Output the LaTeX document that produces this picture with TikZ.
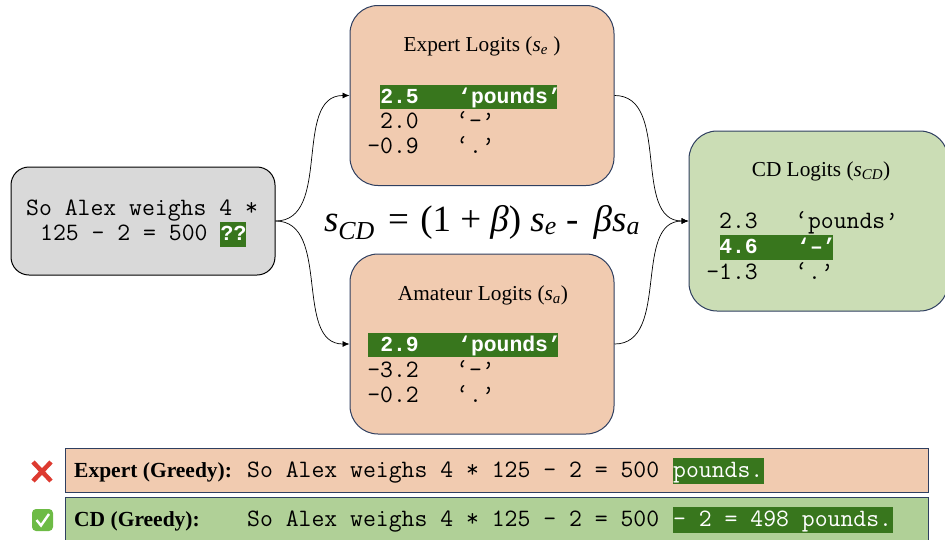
\documentclass[tikz,border=0pt]{standalone}
\usepackage{fontspec}
\setmainfont{Liberation Serif}
\newfontfamily\heavymono{Liberation Mono}
\usetikzlibrary{arrows.meta}

\definecolor{peach}{HTML}{F1CBB0}
\definecolor{sage}{HTML}{CBDDB5}
\definecolor{barsage}{HTML}{B0D097}
\definecolor{boxgray}{HTML}{D9D9D9}
\definecolor{hlgreen}{HTML}{38761D}
\definecolor{navy}{HTML}{2F3F60}
\definecolor{crossred}{HTML}{DD3A30}
\definecolor{tickgreen}{HTML}{6DBB45}

\tikzset{
    panel/.style={draw=navy, line width=1pt, rounded corners=28pt, inner sep=0pt,
        minimum width=264pt, minimum height=180pt},
    bar/.style={draw=navy, line width=1pt, inner sep=0pt, minimum width=863pt, anchor=north west},
    title/.style={font=\fontsize{21.3}{25}\selectfont},
    label/.style={anchor=base west, inner sep=0pt, font=\fontsize{21.5}{25}\selectfont\bfseries},
    mono/.style={anchor=base west, inner sep=0pt, font=\fontsize{25}{27}\ttfamily},
    num/.style={mono, anchor=base east},
    strong/.style={text=white, font=\fontsize{21.4}{26}\heavymono\bfseries},
    hilite/.style={fill=hlgreen, inner sep=0pt, anchor=north west},
    link/.style={draw=black, line width=0.7pt, -{Latex[length=7pt,width=6pt]}, out=0, in=180}
}

\begin{document}
\begin{tikzpicture}[x=1pt, y=-1pt]
    \useasboundingbox (0, 0) rectangle (945, 539);

    % boxes
    \node[panel, draw=black, fill=boxgray, rounded corners=18pt, minimum width=264pt,
        minimum height=108pt] (prompt) at (143, 221) {};
    \node[panel, fill=peach] (expert) at (482, 95.5) {};
    \node[panel, fill=peach] (amateur) at (482, 344) {};
    \node[panel, fill=sage, minimum width=259pt] (cd) at (818.5, 221) {};

    % connectors
    \draw[link] (prompt.east) to (expert.west);
    \draw[link] (prompt.east) to (amateur.west);
    \draw[link] (expert.east) to (cd.west);
    \draw[link] (amateur.east) to (cd.west);

    % prompt text
    \node[hilite, minimum width=26pt, minimum height=25pt] (promptmark) at (220, 222) {};
    \node[mono, anchor=base] (promptone) at (142, 215) {So Alex weighs 4 *};
    \node[mono] (prompttwo) at (40, 240) {125 – 2 = 500};
    \node[mono, strong] (promptq) at (220.5, 240) {??};

    % formula
    \node[anchor=base, inner sep=0pt, font=\fontsize{37}{42}\selectfont] (formula) at (482, 231)
        {{\itshape s}\textsubscript{\itshape CD}\hspace{4pt} = \hspace{2pt}(1 + {\itshape β}) {\itshape s}\textsubscript{\itshape e} - \hspace{6pt}{\itshape βs}\textsubscript{\itshape a}};

    % expert
    \node[title] (experttitle) at (482, 46) {Expert Logits ({\itshape s}\textsubscript{\itshape e} )};
    \node[hilite, minimum width=177pt, minimum height=24pt] (experthl) at (380, 85) {};
    \node[num, strong, anchor=base east] (expertnuma) at (419, 103) {2.5};
    \node[mono, strong] (experttoka) at (458, 103) {‘pounds’};
    \node[num] (expertnumb) at (419, 128) {2.0};
    \node[mono] (experttokb) at (456, 128) {‘–’};
    \node[num] (expertnumc) at (419, 153) {–0.9};
    \node[mono] (experttokc) at (456, 153) {‘.’};

    % amateur
    \node[title] (amateurtitle) at (483, 295) {Amateur Logits ({\itshape s}\textsubscript{\itshape a})};
    \node[hilite, minimum width=190pt, minimum height=24pt] (amateurhl) at (368, 333) {};
    \node[num, strong, anchor=base east] (amateurnuma) at (419, 351) {2.9};
    \node[mono, strong] (amateurtoka) at (458, 351) {‘pounds’};
    \node[num] (amateurnumb) at (419, 377) {–3.2};
    \node[mono] (amateurtokb) at (456, 377) {‘–’};
    \node[num] (amateurnumc) at (419, 402) {–0.2};
    \node[mono] (amateurtokc) at (456, 402) {‘.’};

    % cd
    \node[title] (cdtitle) at (821, 171) {CD Logits ({\itshape s}\textsubscript{\itshape CD})};
    \node[num] (cdnuma) at (758, 228) {2.3};
    \node[mono] (cdtoka) at (795, 228) {‘pounds’};
    \node[hilite, minimum width=113pt, minimum height=25pt] (cdhl) at (720, 235) {};
    \node[num, strong, anchor=base east] (cdnumb) at (758, 253) {4.6};
    \node[mono, strong] (cdtokb) at (797, 253) {‘–’};
    \node[num] (cdnumc) at (758, 279) {–1.3};
    \node[mono] (cdtokc) at (795, 279) {‘.’};

    % greedy bars
    \node[bar, fill=peach, minimum height=44pt] (expertbar) at (65, 448) {};
    \node[bar, fill=barsage, minimum height=48pt] (cdbar) at (65, 497) {};
    \node[label] (expertlabel) at (74, 477) {Expert (Greedy):};
    \node[label] (cdlabel) at (74, 526) {CD (Greedy):};
    \node[mono] (experttext) at (247, 477) {So Alex weighs 4 * 125 – 2 = 500};
    \node[mono] (cdtext) at (247, 526) {So Alex weighs 4 * 125 – 2 = 500};
    \node[hilite, minimum width=91pt, minimum height=26pt] (expertout) at (673, 458) {};
    \node[hilite, minimum width=220pt, minimum height=26pt] (cdout) at (673, 507) {};
    \node[mono, text=white] (experttail) at (673, 477) {pounds.};
    \node[mono, text=white] (cdtail) at (673, 526) {– 2 = 498 pounds.};

    % marks
    \draw[line width=4.5pt, color=crossred] (33, 462) -- (51, 481) (51, 462) -- (33, 481);
    \fill[color=tickgreen, rounded corners=4pt] (32, 509) rectangle (53, 531);
    \draw[white, line width=2.4pt] (36.5, 520) -- (41, 525.5) -- (49, 514);
\end{tikzpicture}
\end{document}
